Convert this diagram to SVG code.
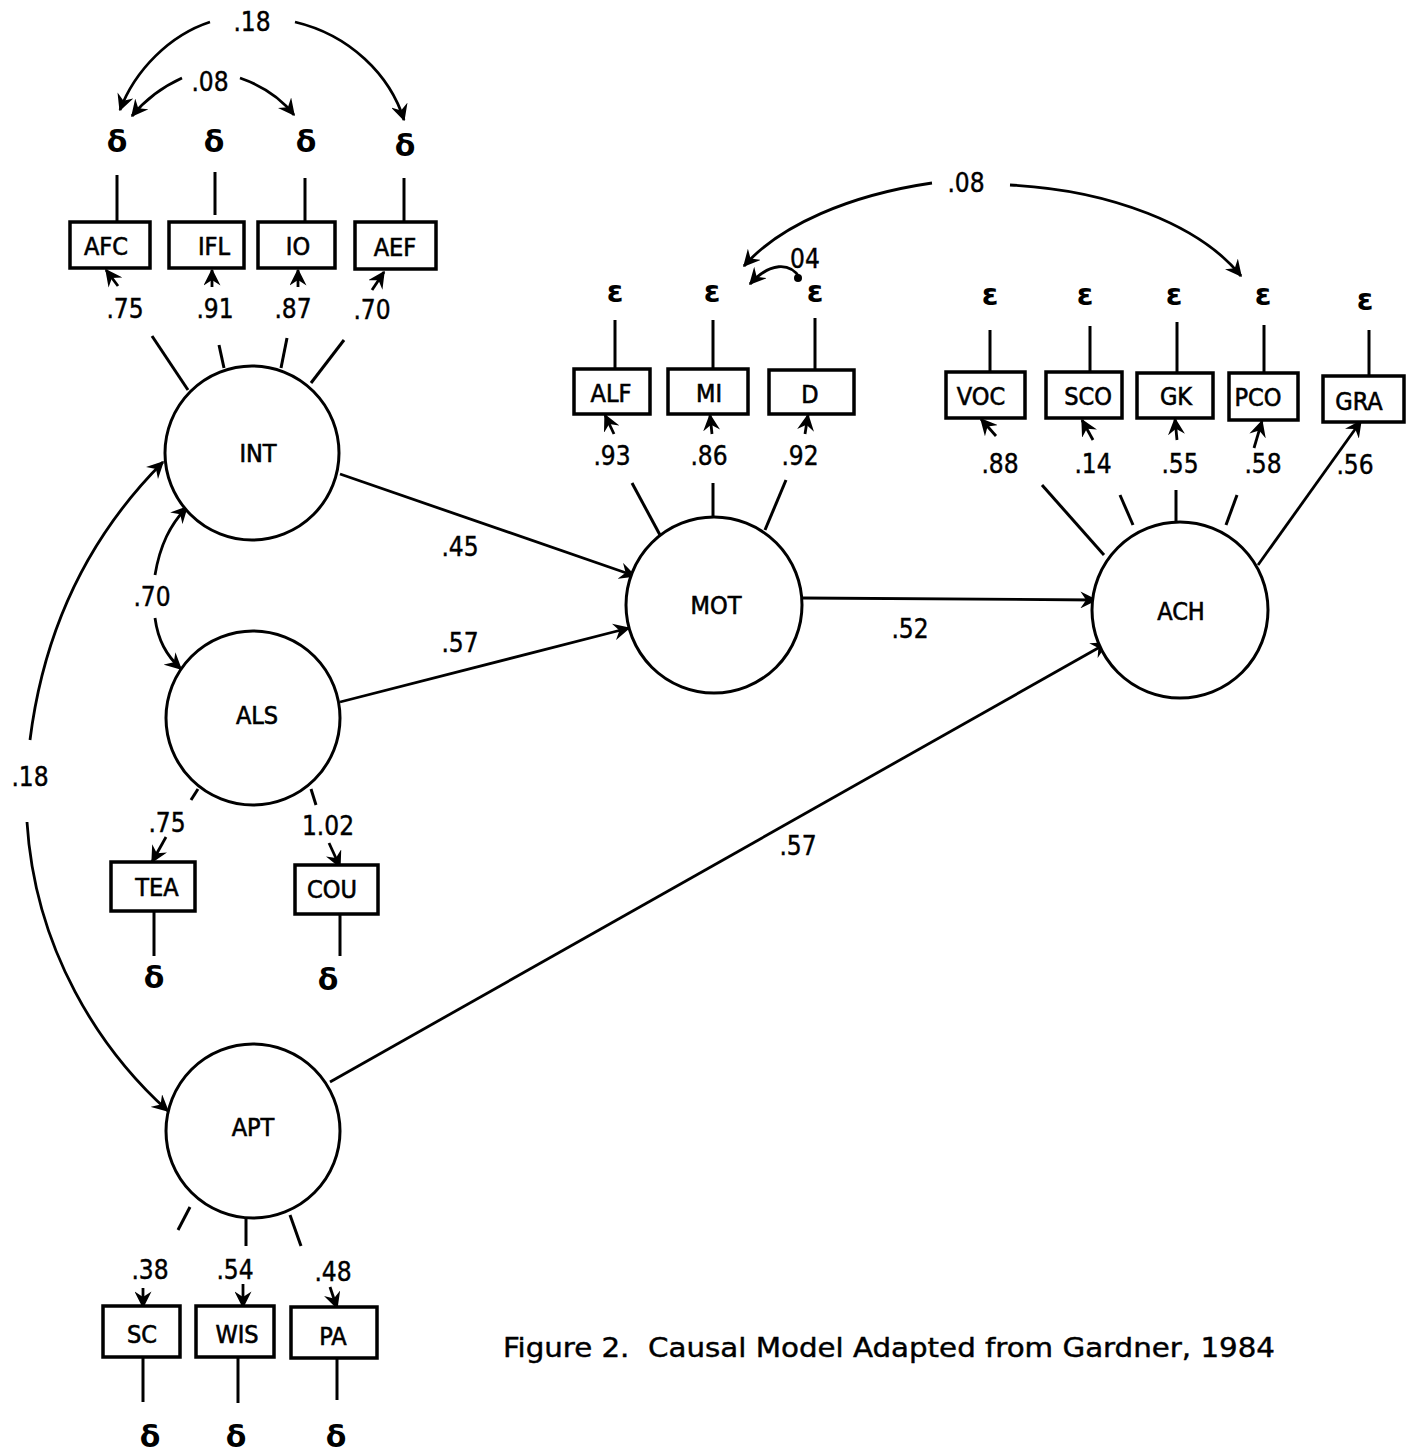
<svg xmlns="http://www.w3.org/2000/svg" width="1414" height="1454" viewBox="0 0 1414 1454">
<defs>
<marker id="ah" viewBox="0 0 12 12" refX="11" refY="6" markerWidth="17" markerHeight="17" orient="auto" markerUnits="userSpaceOnUse">
<path d="M0,0 L12,6 L0,12 L4,6 z" fill="#000"/>
</marker>
<style>
.c{fill:#fff;stroke:#000;stroke-width:3}
.b{fill:#fff;stroke:#000;stroke-width:3.5}
.l{fill:none;stroke:#000;stroke-width:3}
.a{fill:none;stroke:#000;stroke-width:2.8;marker-end:url(#ah)}
.t{font-family:'DejaVu Sans Condensed','Liberation Sans Narrow','Liberation Sans',sans-serif;font-stretch:condensed;font-size:25px;fill:#000;stroke:#000;stroke-width:0.6;text-anchor:middle}
.n{font-family:'DejaVu Sans Condensed','Liberation Sans Narrow','Liberation Sans',sans-serif;font-stretch:condensed;font-size:26px;fill:#000;stroke:#000;stroke-width:0.4;text-anchor:middle}
.g{font-family:'DejaVu Sans','Liberation Sans',sans-serif;font-weight:bold;font-size:30px;fill:#000;text-anchor:middle}
</style>
</defs>
<rect width="1414" height="1454" fill="#fff"/>

<g id="connectors">
<path class="a" d="M210,22 C170,35 135,70 120,110"/>
<path class="a" d="M295,22 C350,35 390,75 404,120"/>
<path class="a" d="M182,78 C160,88 145,100 132,116"/>
<path class="a" d="M240,78 C260,85 280,97 294,115"/>
<line class="l" x1="117" y1="175" x2="117" y2="222"/>
<line class="l" x1="215" y1="172" x2="215" y2="215"/>
<line class="l" x1="305" y1="178" x2="305" y2="222"/>
<line class="l" x1="404" y1="178" x2="404" y2="222"/>
<line class="l" x1="152" y1="336" x2="188" y2="390"/>
<line class="l" x1="219" y1="345" x2="224" y2="368"/>
<line class="l" x1="287" y1="338" x2="281" y2="368"/>
<line class="l" x1="344" y1="340" x2="311" y2="383"/>
<path class="a" d="M118,286 L106,270"/>
<path class="a" d="M212,287 L212,270"/>
<path class="a" d="M298,287 L298,270"/>
<path class="a" d="M372,290 L384,272"/>
<path class="a" d="M155,575 C160,545 170,525 187,507"/>
<path class="a" d="M155,618 C158,640 166,655 181,669"/>
<path class="a" d="M30,740 C45,620 95,530 163,462"/>
<path class="a" d="M27,822 C35,950 100,1050 168,1111"/>
<path class="a" d="M340,474 L635,576"/>
<path class="a" d="M340,702 L629,628"/>
<path class="a" d="M802,598 L1096,600"/>
<path class="a" d="M330,1082 L1107,643"/>
<line class="l" x1="615" y1="320" x2="615" y2="369"/>
<line class="l" x1="713" y1="320" x2="713" y2="369"/>
<line class="l" x1="815" y1="318" x2="815" y2="370"/>
<line class="l" x1="632" y1="483" x2="660" y2="535"/>
<line class="l" x1="713" y1="483" x2="713" y2="519"/>
<line class="l" x1="786" y1="480" x2="765" y2="530"/>
<path class="a" d="M614,434 L605,415"/>
<path class="a" d="M712,434 L710,415"/>
<path class="a" d="M805,434 L808,415"/>
<path class="a" d="M932,183 C850,195 780,225 744,266"/>
<path class="a" d="M1010,185 C1110,190 1200,225 1241,276"/>
<path class="a" d="M800,278 C790,262 770,262 750,284"/>
<circle cx="798" cy="278" r="4" fill="#000"/>
<line class="l" x1="990" y1="330" x2="990" y2="372"/>
<line class="l" x1="1090" y1="326" x2="1090" y2="372"/>
<line class="l" x1="1177" y1="322" x2="1177" y2="372"/>
<line class="l" x1="1264" y1="325" x2="1264" y2="373"/>
<line class="l" x1="1369" y1="330" x2="1369" y2="375"/>
<line class="l" x1="1042" y1="485" x2="1104" y2="555"/>
<line class="l" x1="1120" y1="495" x2="1133" y2="525"/>
<line class="l" x1="1176" y1="490" x2="1176" y2="521"/>
<line class="l" x1="1237" y1="495" x2="1226" y2="525"/>
<path class="a" d="M996,436 L981,419"/>
<path class="a" d="M1093,440 L1082,420"/>
<path class="a" d="M1177,440 L1175,419"/>
<path class="a" d="M1254,448 L1262,421"/>
<path class="a" d="M1258,565 L1361,421"/>
<line class="l" x1="198" y1="789" x2="191" y2="800"/>
<line class="l" x1="311" y1="789" x2="316" y2="805"/>
<path class="a" d="M166,837 L152,862"/>
<path class="a" d="M329,843 L340,867"/>
<line class="l" x1="154" y1="912" x2="154" y2="956"/>
<line class="l" x1="340" y1="914" x2="340" y2="956"/>
<line class="l" x1="190" y1="1207" x2="178" y2="1230"/>
<line class="l" x1="246" y1="1218" x2="246" y2="1246"/>
<line class="l" x1="290" y1="1215" x2="301" y2="1246"/>
<path class="a" d="M143,1288 L143,1307"/>
<path class="a" d="M243,1284 L243,1307"/>
<path class="a" d="M330,1287 L337,1308"/>
<line class="l" x1="143" y1="1357" x2="143" y2="1402"/>
<line class="l" x1="238" y1="1357" x2="238" y2="1403"/>
<line class="l" x1="337" y1="1358" x2="337" y2="1400"/>
</g>

<g id="node-INT"><circle class="c" cx="252" cy="453" r="87"/><text class="t" x="258" y="462">INT</text></g>
<g id="node-ALS"><circle class="c" cx="253" cy="718" r="87"/><text class="t" x="257" y="724">ALS</text></g>
<g id="node-APT"><circle class="c" cx="253" cy="1131" r="87"/><text class="t" x="253" y="1136">APT</text></g>
<g id="node-MOT"><circle class="c" cx="714" cy="605" r="88"/><text class="t" x="716" y="614">MOT</text></g>
<g id="node-ACH"><circle class="c" cx="1180" cy="610" r="88"/><text class="t" x="1181" y="620">ACH</text></g>

<g id="node-AFC"><rect class="b" x="70" y="222" width="80" height="46"/><text class="t" x="106" y="255">AFC</text></g>
<g id="node-IFL"><rect class="b" x="169" y="222" width="75" height="46"/><text class="t" x="214" y="255">IFL</text></g>
<g id="node-IO"><rect class="b" x="258" y="222" width="77" height="46"/><text class="t" x="298" y="255">IO</text></g>
<g id="node-AEF"><rect class="b" x="355" y="222" width="81" height="47"/><text class="t" x="395" y="256">AEF</text></g>

<g id="node-ALF"><rect class="b" x="574" y="369" width="76" height="45"/><text class="t" x="611" y="402">ALF</text></g>
<g id="node-MI"><rect class="b" x="668" y="369" width="80" height="45"/><text class="t" x="709" y="402">MI</text></g>
<g id="node-D"><rect class="b" x="769" y="370" width="85" height="44"/><text class="t" x="810" y="403">D</text></g>

<g id="node-VOC"><rect class="b" x="946" y="372" width="79" height="46"/><text class="t" x="981" y="405">VOC</text></g>
<g id="node-SCO"><rect class="b" x="1046" y="372" width="76" height="46"/><text class="t" x="1088" y="405">SCO</text></g>
<g id="node-GK"><rect class="b" x="1137" y="373" width="76" height="45"/><text class="t" x="1176" y="405">GK</text></g>
<g id="node-PCO"><rect class="b" x="1229" y="373" width="69" height="47"/><text class="t" x="1258" y="406">PCO</text></g>
<g id="node-GRA"><rect class="b" x="1323" y="376" width="81" height="46"/><text class="t" x="1359" y="410">GRA</text></g>

<g id="node-TEA"><rect class="b" x="111" y="862" width="84" height="49"/><text class="t" x="157" y="896">TEA</text></g>
<g id="node-COU"><rect class="b" x="295" y="865" width="83" height="49"/><text class="t" x="332" y="898">COU</text></g>

<g id="node-SC"><rect class="b" x="103" y="1306" width="77" height="51"/><text class="t" x="142" y="1343">SC</text></g>
<g id="node-WIS"><rect class="b" x="196" y="1306" width="78" height="51"/><text class="t" x="237" y="1343">WIS</text></g>
<g id="node-PA"><rect class="b" x="291" y="1307" width="86" height="51"/><text class="t" x="333" y="1345">PA</text></g>

<g id="errors">
<text class="g" x="117" y="152">δ</text>
<text class="g" x="214" y="152">δ</text>
<text class="g" x="306" y="152">δ</text>
<text class="g" x="405" y="156">δ</text>
<text class="g" x="615" y="302">ε</text>
<text class="g" x="712" y="302">ε</text>
<text class="g" x="815" y="302">ε</text>
<text class="g" x="990" y="305">ε</text>
<text class="g" x="1085" y="305">ε</text>
<text class="g" x="1174" y="305">ε</text>
<text class="g" x="1263" y="305">ε</text>
<text class="g" x="1365" y="310">ε</text>
<text class="g" x="154" y="988">δ</text>
<text class="g" x="328" y="990">δ</text>
<text class="g" x="150" y="1447">δ</text>
<text class="g" x="236" y="1447">δ</text>
<text class="g" x="336" y="1447">δ</text>
</g>

<g id="labels">
<text class="n" x="252" y="31">.18</text>
<text class="n" x="210" y="91">.08</text>
<text class="n" x="125" y="318">.75</text>
<text class="n" x="215" y="318">.91</text>
<text class="n" x="293" y="318">.87</text>
<text class="n" x="372" y="319">.70</text>
<text class="n" x="966" y="192">.08</text>
<text class="n" x="805" y="268">04</text>
<text class="n" x="612" y="465">.93</text>
<text class="n" x="709" y="465">.86</text>
<text class="n" x="800" y="465">.92</text>
<text class="n" x="1000" y="473">.88</text>
<text class="n" x="1093" y="473">.14</text>
<text class="n" x="1180" y="473">.55</text>
<text class="n" x="1263" y="473">.58</text>
<text class="n" x="1355" y="474">.56</text>
<text class="n" x="460" y="556">.45</text>
<text class="n" x="460" y="652">.57</text>
<text class="n" x="910" y="638">.52</text>
<text class="n" x="798" y="855">.57</text>
<text class="n" x="152" y="606">.70</text>
<text class="n" x="30" y="786">.18</text>
<text class="n" x="167" y="832">.75</text>
<text class="n" x="328" y="835">1.02</text>
<text class="n" x="150" y="1279">.38</text>
<text class="n" x="235" y="1279">.54</text>
<text class="n" x="333" y="1281">.48</text>
</g>

<text x="503" y="1357" font-family="'DejaVu Sans Condensed','Liberation Sans Narrow','Liberation Sans',sans-serif" font-stretch="condensed" font-size="27" stroke="#000" stroke-width="0.4" style="white-space:pre" textLength="772" lengthAdjust="spacingAndGlyphs">Figure 2.  Causal Model Adapted from Gardner, 1984</text>
</svg>
